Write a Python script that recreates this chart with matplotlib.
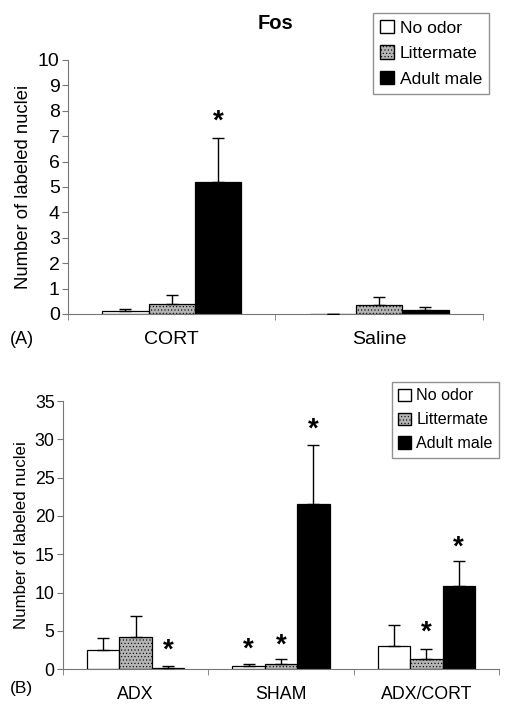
import matplotlib.pyplot as plt
from matplotlib.patches import Patch
import numpy as np

plt.rcParams['font.family'] = ['Liberation Sans', 'DejaVu Sans']
plt.rcParams['hatch.linewidth'] = 0.4

series = ['No odor', 'Littermate', 'Adult male']

# panel A
cats_a = ['CORT', 'Saline']
a_vals = [[0.10, 0.0], [0.38, 0.35], [5.18, 0.14]]
a_err = [[0.08, 0.0], [0.37, 0.33], [1.76, 0.12]]
a_stars = [[None, None], [None, None], [7.8, None]]

# panel B
cats_b = ['ADX', 'SHAM', 'ADX/CORT']
b_vals = [[2.52, 0.43, 3.0], [4.26, 0.70, 1.30], [0.22, 21.6, 10.9]]
b_err = [[1.61, 0.27, 2.78], [2.74, 0.60, 1.40], [0.26, 7.7, 3.2]]
b_stars = [[None, 3.4, None], [None, 3.8, 5.5], [3.2, 32.1, 16.7]]

faces = ['white', '#b4b4b4', 'black']
hatches = [None, '.....', None]

fig = plt.figure(figsize=(5.1, 7.08), dpi=100)


def panel(ax, cats, vals, errs, stars, ymax, step, fs):
    w = 0.223
    x = np.arange(len(cats))
    for i in range(3):
        ax.bar(x + (i - 1) * w, vals[i], w, color=faces[i], edgecolor='black',
               linewidth=0.9, hatch=hatches[i], zorder=2)
        ax.errorbar(x + (i - 1) * w, vals[i], yerr=[np.zeros(len(cats)), errs[i]],
                    fmt='none', ecolor='black', elinewidth=1, capsize=4.5, capthick=1, zorder=3)
        for j, s in enumerate(stars[i]):
            if s is not None:
                ax.annotate('*', (x[j] + (i - 1) * w, s), xytext=(0, -4.3),
                            textcoords='offset points', ha='center', va='center',
                            fontsize=20, fontweight='bold')
    ax.set_xlim(-0.5, len(cats) - 0.5)
    ax.set_ylim(0, ymax)
    ax.set_yticks(np.arange(0, ymax + 0.1, step))
    ax.set_xticks(x)
    ax.set_xticklabels(cats, fontsize=fs)
    ax.set_xticks(np.arange(-0.5, len(cats), 1), minor=True)
    ax.tick_params(axis='x', which='major', length=0, pad=12)
    ax.tick_params(axis='x', which='minor', length=4, color='#777777')
    ax.tick_params(axis='y', labelsize=fs, length=4, color='#777777', pad=2)
    for s in ['top', 'right']:
        ax.spines[s].set_visible(False)
    ax.spines['left'].set_color('#777777')
    ax.spines['bottom'].set_color('#777777')
    ax.set_ylabel('Number of labeled nuclei', fontsize=fs * 0.95, labelpad=4)


handles = [Patch(facecolor=faces[i], edgecolor='black', hatch=hatches[i]) for i in range(3)]
leg_kw = dict(handlelength=0.8, handleheight=0.8, handletextpad=0.3, borderaxespad=0,
              borderpad=0.4, labelspacing=0.55, fancybox=False, edgecolor='#777777')

ax1 = fig.add_axes([0.1333, 0.5565, 0.8137, 0.3588])
panel(ax1, cats_a, a_vals, a_err, a_stars, 10, 1, 14)
ax1.set_title('Fos', fontsize=14.5, fontweight='bold', pad=22)
fig.legend(handles, series, loc='upper right', bbox_to_anchor=(489 / 510, 1 - 13 / 708),
           fontsize=12.6, **leg_kw)
fig.text(10 / 510, 1 - 340 / 708, '(A)', fontsize=13, va='center')

ax2 = fig.add_axes([0.1235, 0.0547, 0.855, 0.3789])
panel(ax2, cats_b, b_vals, b_err, b_stars, 35, 5, 12.8)
fig.legend(handles, series, loc='upper right', bbox_to_anchor=(499 / 510, 1 - 382 / 708),
           fontsize=11.6, **leg_kw)
fig.text(10 / 510, 1 - 688 / 708, '(B)', fontsize=12.5, va='center')

fig.savefig('out.png', dpi=100)
